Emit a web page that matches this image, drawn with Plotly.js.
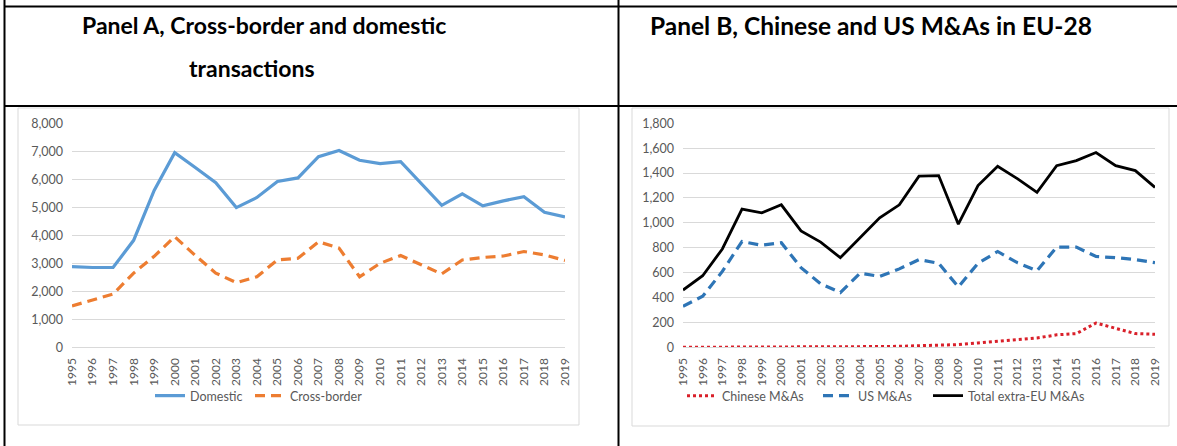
<!DOCTYPE html>
<html>
<head>
<meta charset="utf-8">
<script src="https://cdn.plot.ly/plotly-3.0.1.min.js"></script>
<style>
html,body{margin:0;padding:0;background:#fff;}
#chart{width:1177px;height:446px;}
</style>
</head>
<body>
<div id="chart"></div>
<script>
// ---- Data ----
const years = ['1995','1996','1997','1998','1999','2000','2001','2002','2003','2004','2005','2006','2007','2008','2009','2010','2011','2012','2013','2014','2015','2016','2017','2018','2019'];

// Panel A
const domestic = [2880,2850,2850,3820,5600,6950,6420,5880,4990,5350,5920,6050,6810,7030,6680,6560,6630,5850,5070,5480,5050,5230,5380,4820,4660];
const crossBorder = [1480,1700,1900,2650,3250,3950,3280,2650,2310,2520,3120,3180,3770,3540,2520,3000,3280,2950,2620,3120,3210,3260,3420,3300,3100];

// Panel B
const chinese = [0,0,1,1,2,2,3,4,3,5,6,8,12,15,22,35,50,65,75,100,110,195,155,110,105];
const usMA = [330,410,610,850,820,840,640,510,440,595,570,630,705,675,485,675,770,680,615,805,805,730,720,705,680];
const totalExtraEU = [460,575,790,1110,1080,1145,935,845,720,880,1040,1145,1375,1380,990,1300,1455,1355,1245,1460,1500,1565,1460,1420,1285];

const yTicksA = [0,1000,2000,3000,4000,5000,6000,7000,8000];
const yTicksB = [0,200,400,600,800,1000,1200,1400,1600,1800];

const titleA1 = 'Panel A, Cross-border and domestic';
const titleA2 = 'transactions';
const titleB = 'Panel B, Chinese and US M&amp;As in EU-28';

// ---- Layout helpers ----
const W = 1177, H = 446;
const px = x => x / W;
const py = y => 1 - y / H;

const tickFont = {family: 'Lato, "Liberation Sans", sans-serif', size: 12.5, color: '#595959'};
const xTickFont = {family: 'Lato, "Liberation Sans", sans-serif', size: 12, color: '#595959'};
const grid = '#d9d9d9';

const traces = [
  {x: years, y: domestic, name: 'Domestic', type: 'scatter', mode: 'lines', legendwidth: 55,
   line: {color: '#5b9bd5', width: 3.2}, xaxis: 'x', yaxis: 'y', legend: 'legend'},
  {x: years, y: crossBorder, name: 'Cross-border', type: 'scatter', mode: 'lines', legendwidth: 80,
   line: {color: '#ed7d31', width: 3.2, dash: '10px,6px'}, xaxis: 'x', yaxis: 'y', legend: 'legend'},
  {x: years, y: chinese, name: 'Chinese M&amp;As', type: 'scatter', mode: 'lines', legendwidth: 91,
   line: {color: '#d9202a', width: 3, dash: 'dot'}, xaxis: 'x2', yaxis: 'y2', legend: 'legend2'},
  {x: years, y: usMA, name: 'US M&amp;As', type: 'scatter', mode: 'lines', legendwidth: 65,
   line: {color: '#2e75b6', width: 3.2, dash: '10px,6px'}, xaxis: 'x2', yaxis: 'y2', legend: 'legend2'},
  {x: years, y: totalExtraEU, name: 'Total extra-EU M&amp;As', type: 'scatter', mode: 'lines', legendwidth: 120,
   line: {color: '#000000', width: 2.8}, xaxis: 'x2', yaxis: 'y2', legend: 'legend2'}
];

const yDomain = [py(347.3), py(123.3)];

function xAxis(domain, anchor) {
  return {domain: domain, anchor: anchor, type: 'category', categoryarray: years,
    tickangle: -90, tickfont: xTickFont, showgrid: false, showline: true, linecolor: grid,
    linewidth: 1, ticks: '', ticklabelstandoff: 5, fixedrange: true, zeroline: false};
}
function yAxis(domain, anchor, range, vals) {
  return {domain: domain, anchor: anchor, range: range, tickvals: vals,
    ticktext: vals.map(v => v.toLocaleString('en-US')), tickfont: tickFont,
    showgrid: true, gridcolor: grid, gridwidth: 1, zeroline: false, showline: false,
    ticks: '', ticklabelstandoff: 8, fixedrange: true};
}

const blk = {color: '#000', width: 2};
const shapes = [
  {type: 'line', xref: 'paper', yref: 'paper', x0: px(4.5), x1: 1, y0: py(6.5), y1: py(6.5), line: blk},
  {type: 'line', xref: 'paper', yref: 'paper', x0: px(4.5), x1: 1, y0: py(106), y1: py(106), line: blk},
  {type: 'line', xref: 'paper', yref: 'paper', x0: px(4.5), x1: px(4.5), y0: 0, y1: 1, line: blk},
  {type: 'line', xref: 'paper', yref: 'paper', x0: px(618.5), x1: px(618.5), y0: 0, y1: 1, line: blk},
  {type: 'rect', xref: 'paper', yref: 'paper', x0: px(18), x1: px(579), y0: py(425), y1: py(108), line: {color: grid, width: 1}},
  {type: 'rect', xref: 'paper', yref: 'paper', x0: px(632), x1: px(1169), y0: py(426), y1: py(108), line: {color: grid, width: 1}}
];

const titleFont = {family: 'Lato, "Open Sans", sans-serif', size: 23, color: '#000', weight: 700};
const titleFontB = {family: 'Lato, "Open Sans", sans-serif', size: 24.5, color: '#000', weight: 700};
const annotations = [
  {text: '<b>' + titleA1 + '</b>', xref: 'paper', yref: 'paper', x: px(264), y: py(25), xanchor: 'center', yanchor: 'middle', showarrow: false, font: titleFont},
  {text: '<b>' + titleA2 + '</b>', xref: 'paper', yref: 'paper', x: px(252), y: py(68), xanchor: 'center', yanchor: 'middle', showarrow: false, font: titleFont},
  {text: '<b>' + titleB + '</b>', xref: 'paper', yref: 'paper', x: px(871), y: py(25), xanchor: 'center', yanchor: 'middle', showarrow: false, font: titleFontB}
];

const legFont = {family: 'Lato, "Liberation Sans", sans-serif', size: 12.5, color: '#595959'};
const layout = {
  width: W, height: H,
  margin: {l: 0, r: 0, t: 0, b: 0},
  paper_bgcolor: '#ffffff', plot_bgcolor: 'rgba(0,0,0,0)',
  showlegend: true,
  xaxis: xAxis([px(72), px(565)], 'y'),
  yaxis: yAxis(yDomain, 'x', [0, 8000], yTicksA),
  xaxis2: xAxis([px(683), px(1155)], 'y2'),
  yaxis2: yAxis(yDomain, 'x2', [0, 1800], yTicksB),
  legend: {orientation: 'h', x: px(150), y: py(396), xanchor: 'left', yanchor: 'middle',
    font: legFont, bgcolor: 'rgba(0,0,0,0)', itemwidth: 30, tracegroupgap: 0},
  legend2: {orientation: 'h', x: px(682), y: py(396), xanchor: 'left', yanchor: 'middle',
    font: legFont, bgcolor: 'rgba(0,0,0,0)', itemwidth: 30, tracegroupgap: 0},
  shapes: shapes,
  annotations: annotations
};

Plotly.newPlot('chart', traces, layout, {displayModeBar: false, staticPlot: true});
</script>
</body>
</html>
